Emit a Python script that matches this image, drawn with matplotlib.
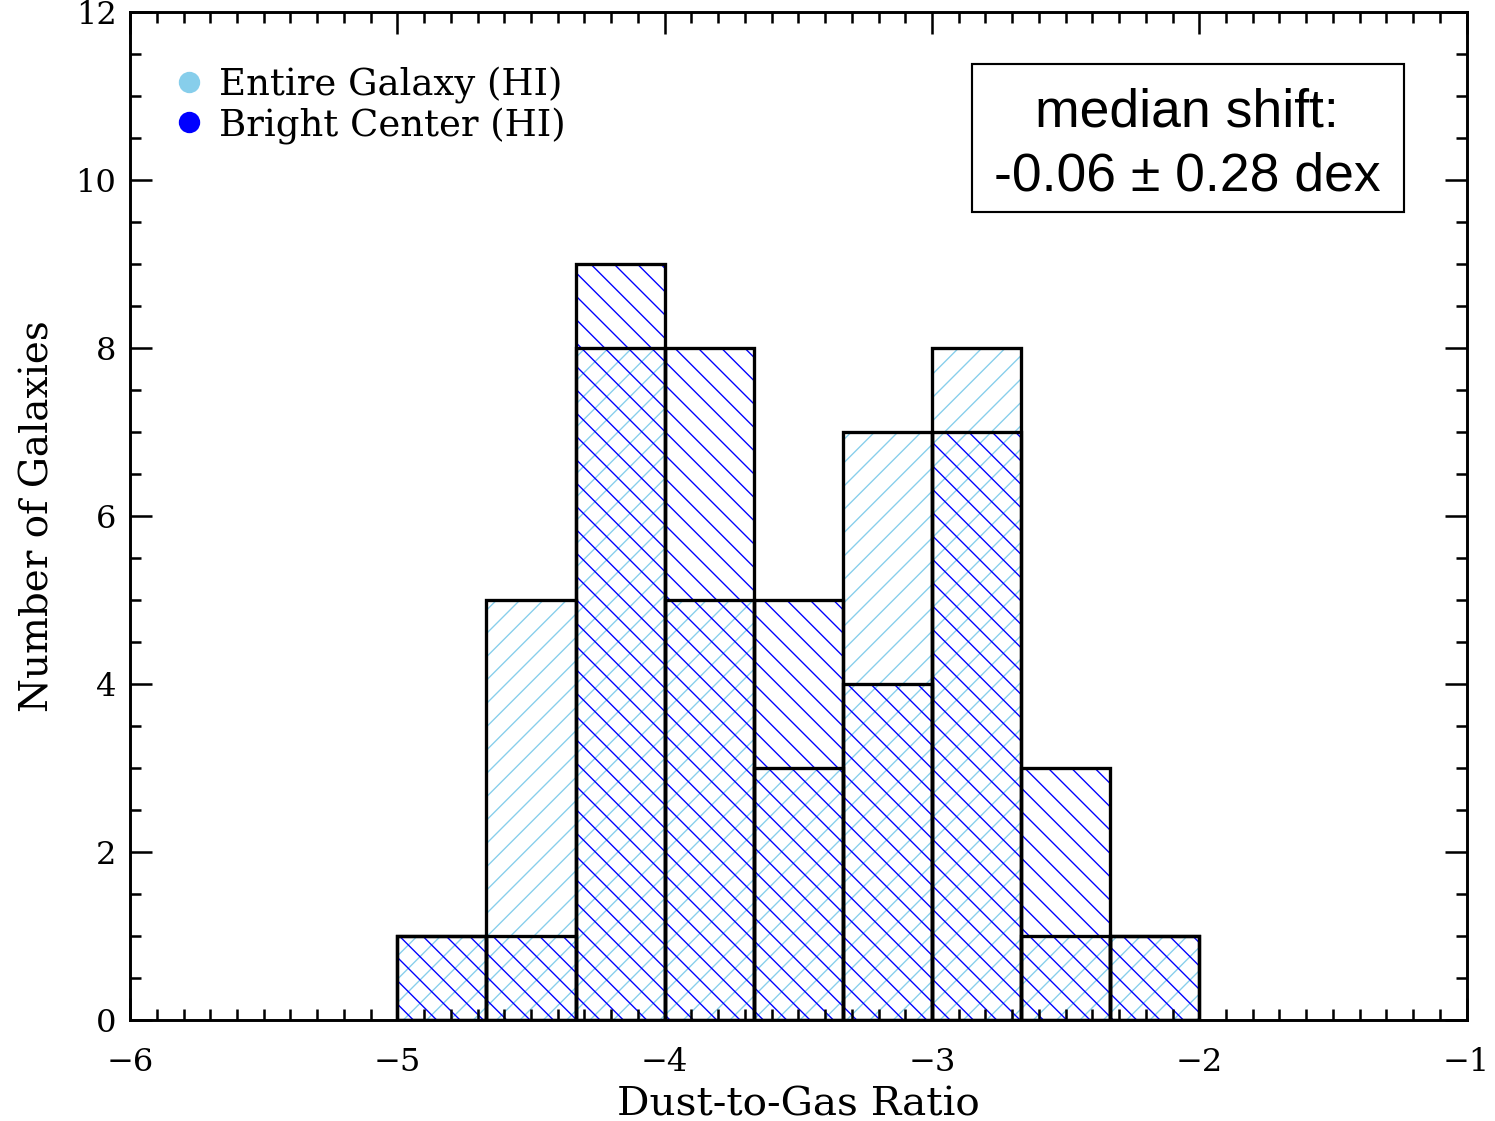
import matplotlib
matplotlib.use("Agg")
import matplotlib.pyplot as plt
from matplotlib.lines import Line2D
from matplotlib.patches import Rectangle
from matplotlib.ticker import MultipleLocator
import numpy as np

# histogram of dust-to-gas ratio, 9 bins of 1/3 dex from -5 to -2
bin_edges = np.linspace(-5, -2, 10)
entire_counts = [1, 5, 8, 5, 3, 7, 8, 1, 1]   # Entire Galaxy (HI)
bright_counts = [1, 1, 9, 8, 5, 4, 7, 3, 1]   # Bright Center (HI)
labels = ["Entire Galaxy (HI)", "Bright Center (HI)"]
colors = ["skyblue", "blue"]
box_text = "median shift:\n-0.06 \u00b1 0.28 dex"

DPI = 140
plt.rcParams['font.family'] = ['DejaVu Serif']
plt.rcParams['hatch.linewidth'] = 0.7

fig = plt.figure(figsize=(1495 / DPI, 1121 / DPI), dpi=DPI)
ax = fig.add_axes([0.087, 0.090, 0.894, 0.899])

width = bin_edges[1] - bin_edges[0]
lefts = bin_edges[:-1]

# hatches first (hatch colour follows edgecolor), then black outlines
ax.bar(lefts, entire_counts, width=width, align='edge', fill=False,
       edgecolor=colors[0], linewidth=0, hatch='//')
ax.bar(lefts, bright_counts, width=width, align='edge', fill=False,
       edgecolor=colors[1], linewidth=0, hatch='\\\\')
for counts in (entire_counts, bright_counts):
    ax.bar(lefts, counts, width=width, align='edge', fill=False,
           edgecolor='black', linewidth=1.7)

ax.set_xlim(-6, -1)
ax.set_ylim(0, 12)
ax.xaxis.set_major_locator(MultipleLocator(1))
ax.xaxis.set_minor_locator(MultipleLocator(0.1))
ax.yaxis.set_major_locator(MultipleLocator(2))
ax.yaxis.set_minor_locator(MultipleLocator(0.5))
ax.tick_params(which='both', direction='in', top=True, right=True, width=1.3)
ax.tick_params(which='major', length=11.3, labelsize=16.5)
ax.tick_params(axis='x', which='major', pad=14)
ax.tick_params(axis='y', which='major', pad=7)
ax.tick_params(which='minor', length=5.7)
for sp in ax.spines.values():
    sp.set_linewidth(1.5)

ax.set_xlabel("Dust-to-Gas Ratio", fontsize=20.8, labelpad=4)
ax.set_ylabel("Number of Galaxies", fontsize=20, labelpad=10)

handles = [Line2D([], [], linestyle='none', marker='o', markersize=10,
                  markerfacecolor=c, markeredgecolor=c) for c in colors]
ax.legend(handles, labels, loc='upper left', bbox_to_anchor=(0.022, 0.965),
          frameon=False, fontsize=19, handlelength=0.6, handletextpad=0.5,
          labelspacing=0.1, borderpad=0)

ax.add_patch(Rectangle((0.630, 0.802), 0.323, 0.147, transform=ax.transAxes,
                       fill=False, edgecolor='black', linewidth=1.1))
ax.text(0.791, 0.869, box_text, transform=ax.transAxes, ha='center',
        va='center', fontsize=27.5, family=['Liberation Sans', 'DejaVu Sans'],
        linespacing=1.35)

fig.savefig("out.png", dpi=DPI)
